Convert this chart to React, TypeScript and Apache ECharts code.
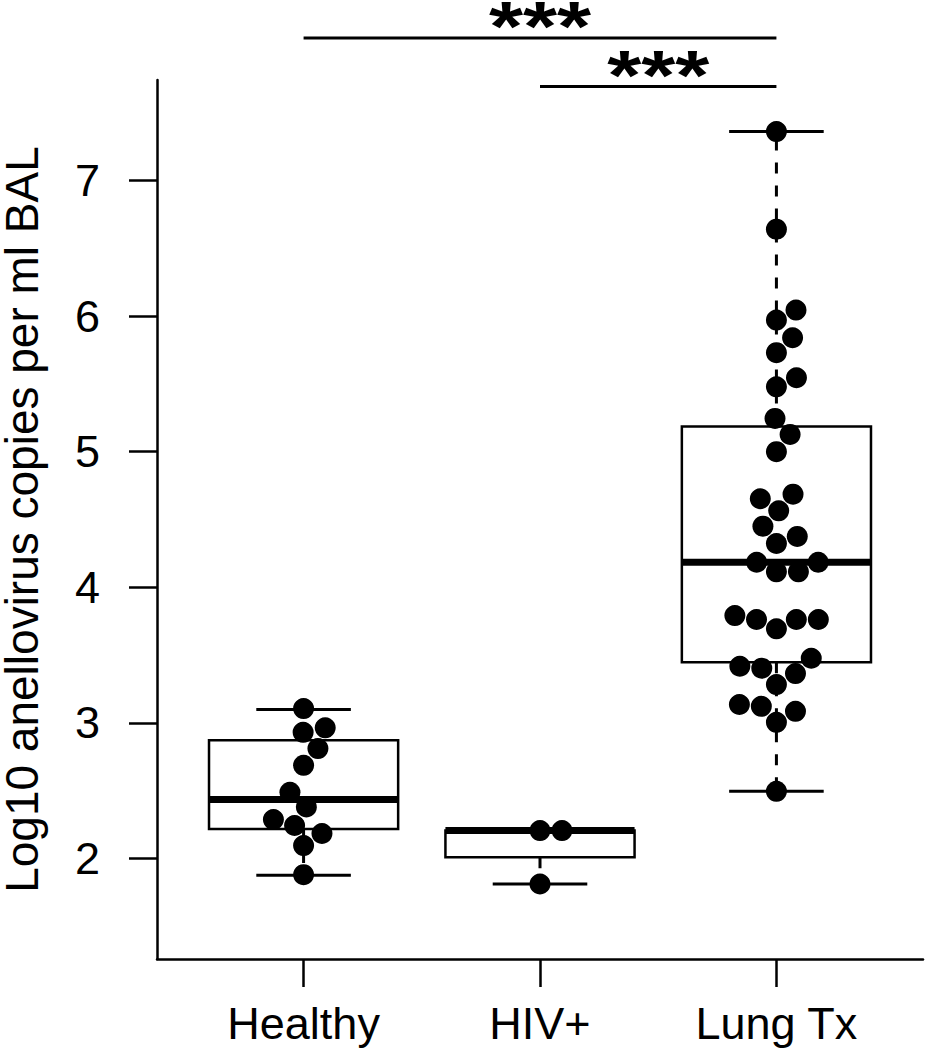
import React, { useEffect, useRef } from "react";
import * as echarts from "echarts";

// ---- data ----
const categories = ["Healthy", "HIV+", "Lung Tx"];
const groupPos = [1, 2, 3];

const healthyValues = [3.106, 2.964, 2.931, 2.811, 2.688, 2.489, 2.381, 2.288, 2.244, 2.185, 2.096, 1.882];
const hivValues = [2.207, 2.207, 1.813];
const lungTxValues = [
  7.36, 6.64, 6.044, 5.97, 5.84, 5.73, 5.545, 5.478, 5.245, 5.127, 5.0, 4.687, 4.653, 4.564, 4.451,
  4.375, 4.323, 4.185, 4.185, 4.114, 4.114, 3.792, 3.763, 3.763, 3.763, 3.694, 3.477, 3.418, 3.404,
  3.364, 3.283, 3.136, 3.123, 3.086, 3.005, 2.496,
];

const boxMin = [1.877, 1.813, 2.496];
const boxQ1 = [2.219, 2.01, 3.447];
const boxMedian = [2.435, 2.207, 4.185];
const boxQ3 = [2.872, 2.207, 5.186];
const boxMax = [3.099, 2.207, 7.36];

const sigFrom = [1, 2];
const sigTo = [3, 3];
const sigLevel = [8.05, 7.693];
const sigLabel = ["***", "***"];

const yTicks = [2, 3, 4, 5, 6, 7];
const yTitle = "Log10 anellovirus copies per ml BAL";

// ---- layout ----
const X_MIN = 0.38;
const X_MAX = 3.62;
const Y_MIN = 1.26;
const Y_MAX = 7.74;
const GRID = { left: 157, top: 80, width: 766, height: 879 };
const FONT = "'Liberation Sans', Arial, Helvetica, sans-serif";
const SPACING = 22; // beeswarm spacing in px

function swarmOffsets(values: number[], pxPerY: number, s: number): number[] {
  const order = values.map((v, i) => i).sort((a, b) => values[a] - values[b] || a - b);
  const placed: { y: number; x: number }[] = [];
  const out = new Array(values.length).fill(0);
  for (const i of order) {
    const yi = values[i] * pxPerY;
    const near = placed.filter((p) => Math.abs(p.y - yi) < s);
    const cands: number[] = [0];
    const plus: number[] = [];
    const minus: number[] = [];
    for (const p of near) {
      const d = Math.sqrt(s * s - (yi - p.y) * (yi - p.y));
      plus.push(p.x + d);
      minus.push(p.x - d);
    }
    cands.push(...plus, ...minus);
    let best = Infinity;
    let bestVal = 0;
    for (const c of cands) {
      const ok = near.every((p) => (c - p.x) ** 2 + (yi - p.y) ** 2 >= 0.999 * s * s);
      if (ok && Math.abs(c) < best) {
        best = Math.abs(c);
        bestVal = c;
      }
    }
    out[i] = bestVal;
    placed.push({ y: yi, x: bestVal });
  }
  return out;
}

export default function App() {
  const ref = useRef<HTMLDivElement>(null);
  useEffect(() => {
    document.body.style.margin = "0";
    if (!ref.current) return;
    const chart = echarts.init(ref.current, null, { renderer: "svg" });

    const pxPerX = GRID.width / (X_MAX - X_MIN);
    const pxPerY = GRID.height / (Y_MAX - Y_MIN);
    const groups = [healthyValues, hivValues, lungTxValues];
    const points: number[][] = [];
    groups.forEach((vals, g) => {
      const offs = swarmOffsets(vals, pxPerY, SPACING);
      vals.forEach((v, k) => points.push([groupPos[g] + offs[k] / pxPerX, v]));
    });

    const boxData = groupPos.map((x, i) => [x, boxMin[i], boxQ1[i], boxMedian[i], boxQ3[i], boxMax[i]]);
    const sigData = sigFrom.map((f, i) => [f, sigTo[i], sigLevel[i], sigLabel[i]]);

    const option: any = {
      animation: false,
      backgroundColor: "#fff",
      grid: { ...GRID, containLabel: false, outerBoundsMode: "none" },
      xAxis: {
        type: "value",
        min: X_MIN,
        max: X_MAX,
        splitLine: { show: false },
        axisLine: { show: true, onZero: false, lineStyle: { color: "#000", width: 2.5 } },
        axisTick: { show: true, customValues: groupPos, length: 28, lineStyle: { color: "#000", width: 2.5 } },
        axisLabel: {
          customValues: groupPos,
          formatter: (v: number) => categories[Math.round(v) - 1] ?? "",
          color: "#000",
          fontSize: 45,
          fontFamily: FONT,
          margin: 42,
        },
      },
      yAxis: {
        type: "value",
        min: Y_MIN,
        max: Y_MAX,
        splitLine: { show: false },
        axisLine: { show: true, onZero: false, lineStyle: { color: "#000", width: 2.5 } },
        axisTick: { show: true, customValues: yTicks, length: 28, lineStyle: { color: "#000", width: 2.5 } },
        axisLabel: {
          customValues: yTicks,
          formatter: (v: number) => String(v),
          color: "#000",
          fontSize: 45,
          fontFamily: FONT,
          margin: 57,
        },
        name: yTitle,
        nameLocation: "middle",
        nameRotate: 90,
        nameGap: 113,
        nameTextStyle: { color: "#000", fontSize: 46, lineHeight: 44, fontFamily: FONT },
      },
      series: [
        {
          type: "custom",
          data: boxData,
          encode: { x: 0, y: [1, 2, 3, 4, 5] },
          z: 2,
          renderItem: (params: any, api: any) => {
            const x = api.value(0);
            const lo = api.value(1);
            const q1 = api.value(2);
            const med = api.value(3);
            const q3 = api.value(4);
            const hi = api.value(5);
            const tl = api.coord([x - 0.4, q3]);
            const br = api.coord([x + 0.4, q1]);
            const c = (a: number, b: number) => api.coord([a, b]);
            const seg = (p1: number[], p2: number[], w: number, dash?: number[]) => ({
              type: "line",
              shape: { x1: p1[0], y1: p1[1], x2: p2[0], y2: p2[1] },
              style: { stroke: "#000", lineWidth: w, lineDash: dash, fill: null },
            });
            return {
              type: "group",
              children: [
                seg(c(x, q3), c(x, hi), 3, [11, 12]),
                seg(c(x, q1), c(x, lo), 3, [11, 12]),
                seg(c(x - 0.2, hi), c(x + 0.2, hi), 3),
                seg(c(x - 0.2, lo), c(x + 0.2, lo), 3),
                {
                  type: "rect",
                  shape: { x: tl[0], y: tl[1], width: br[0] - tl[0], height: br[1] - tl[1] },
                  style: { stroke: "#000", lineWidth: 2.5, fill: "#fff" },
                },
                seg(c(x - 0.4, med), c(x + 0.4, med), 7),
              ],
            };
          },
        },
        {
          type: "scatter",
          data: points,
          symbol: "circle",
          symbolSize: 21,
          itemStyle: { color: "#000", opacity: 1 },
          z: 3,
        },
        {
          type: "custom",
          data: sigData,
          clip: false,
          z: 4,
          encode: { x: [0, 1], y: 2 },
          renderItem: (params: any, api: any) => {
            const f = api.value(0);
            const t = api.value(1);
            const lv = api.value(2);
            const p1 = api.coord([f, lv]);
            const p2 = api.coord([t, lv]);
            const label = sigData[params.dataIndex][3] as string;
            return {
              type: "group",
              children: [
                {
                  type: "line",
                  shape: { x1: p1[0], y1: p1[1], x2: p2[0], y2: p2[1] },
                  style: { stroke: "#000", lineWidth: 3 },
                },
                {
                  type: "text",
                  x: (p1[0] + p2[0]) / 2,
                  y: p1[1] - 11,
                  scaleX: 1.25,
                  style: {
                    text: label,
                    fontSize: 70,
                    lineHeight: 40,
                    fontWeight: "bold",
                    fontFamily: FONT,
                    fill: "#000",
                    align: "center",
                    verticalAlign: "middle",
                  },
                },
              ],
            };
          },
        },
      ],
    };
    chart.setOption(option);
    return () => chart.dispose();
  }, []);
  return <div ref={ref} style={{ width: 926, height: 1050 }} />;
}
